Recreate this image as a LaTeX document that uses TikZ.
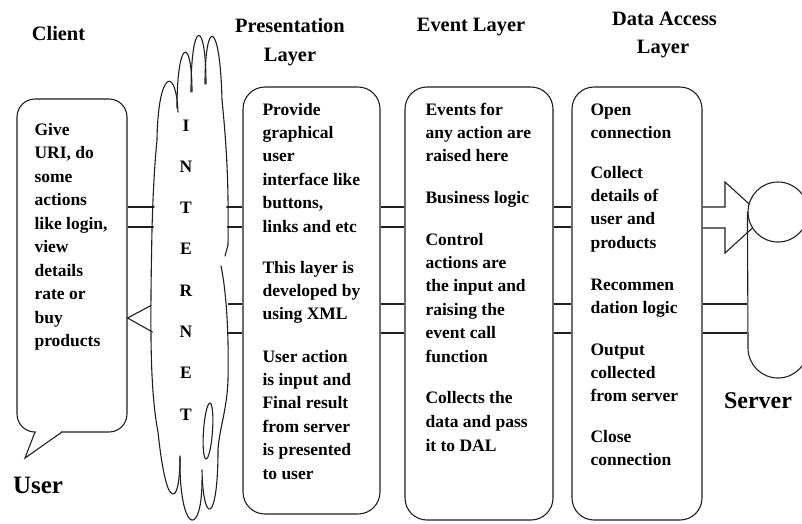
\documentclass[tikz,border=0pt]{standalone}
\usepackage{fontspec}
\setmainfont{Liberation Serif}
\newcommand\bodylines[5]{\foreach \ln [count=\i from 0] in {#5} {\node[body] (#1-\i) at (#2,{#3+\i*#4}) {\ln};}}
\begin{document}
\begin{tikzpicture}[x=1pt,y=-1pt, line width=1.1pt, draw={black!88},
  lbl/.style={font=\fontsize{20.4}{24}\selectfont\bfseries, inner sep=0pt, anchor=base},
  body/.style={font=\fontsize{17.5}{21}\selectfont\bfseries, inner sep=0pt, anchor=base west},
  box/.style={draw, rounded corners=22pt, fill=white, inner sep=0pt},
  stroke/.style={line width=1.1pt, line cap=round}]
\useasboundingbox (0,0) rectangle (802,523);

% level coordinates
\coordinate (y1) at (0,207);
\coordinate (y2) at (0,227);
\coordinate (y3) at (0,304);
\coordinate (y4) at (0,333);
\coordinate (tipY) at (0,318);
\coordinate (cloudW) at (162,0);
\coordinate (cloudE) at (220,0);

% headers
\node[lbl] (hclient) at (58.5,40) {Client};
\node[lbl] (hpres1) at (290,32) {Presentation};
\node[lbl] (hpres2) at (290,61) {Layer};
\node[lbl] (hevent) at (471,31) {Event Layer};
\node[lbl] (hdal1) at (664.5,25) {Data Access};
\node[lbl] (hdal2) at (663,53) {Layer};
\node[lbl, font=\fontsize{24}{28}\selectfont\bfseries] (hserver) at (758,408) {Server};
\node[lbl, font=\fontsize{25}{28}\selectfont\bfseries] (huser) at (38,493) {User};

% client callout
\node[draw, rounded corners=18pt, minimum width=110pt, minimum height=333pt, inner sep=0pt] (client) at (72,265.5) {};
\coordinate (tailA) at (35,432);
\coordinate (tailTip) at (25,458);
\coordinate (tailB) at (62,432);
\fill[white] (36,429) rectangle (61,436);
\draw[line join=miter] (tailA) -- (tailTip) -- (tailB);
\bodylines{cl}{34}{135}{23.5}{Give,{URI, do},some,actions,{like login,},view,details,{rate or},buy,products}

% boxes
\node[box, minimum width=137pt, minimum height=427pt] (pres) at (311.5,300.5) {};
\node[box, minimum width=148pt, minimum height=433pt] (event) at (479,303.5) {};
\node[box, minimum width=130pt, minimum height=433pt] (dal) at (637,303.5) {};

% connectors client <-> cloud
\draw (client.east |- y1) -- (cloudW |- y1);
\draw (client.east |- y2) -- (cloudW |- y2);
\draw[line join=miter] (165,298) -- (client.east |- tipY) -- (165,339);
% cloud <-> presentation
\draw (cloudE |- y1) -- (pres.west |- y1);
\draw (cloudE |- y2) -- (pres.west |- y2);
\draw (cloudE |- y3) -- (pres.west |- y3);
\draw (cloudE |- y4) -- (pres.west |- y4);
% presentation <-> event
\draw (pres.east |- y1) -- (event.west |- y1);
\draw (pres.east |- y2) -- (event.west |- y2);
\draw (pres.east |- y3) -- (event.west |- y3);
\draw (pres.east |- y4) -- (event.west |- y4);
% event <-> dal
\draw (event.east |- y1) -- (dal.west |- y1);
\draw (event.east |- y2) -- (dal.west |- y2);
\draw (event.east |- y3) -- (dal.west |- y3);
\draw (event.east |- y4) -- (dal.west |- y4);

% dal -> server block arrow
\draw[line join=miter] (dal.east |- y1) -- (725,207) -- (725,182) -- (764,217.5) -- (725,253) -- (725,228) -- (dal.east |- 0,228);
% server cylinder
\node[draw, circle, fill=white, minimum size=60pt, inner sep=0pt] (srvtop) at (778,212) {};
\draw (srvtop.west) -- (748,348) .. controls (748,364.6) and (761.4,378) .. (778,378) .. controls (794.6,378) and (808,364.6) .. (808,348);
\draw (dal.east |- y3) -- (srvtop.west |- y3);
\draw (dal.east |- y4) -- (srvtop.west |- y4);

% cloud
\fill[white] (157,140) -- (167,80) -- (185,52) -- (199,36) -- (214,36) -- (222,100) -- (228,250) -- (228,380) -- (220,480) -- (210,512) -- (190,518) -- (173,490) -- (158,432) -- (151,300) -- cycle;
\draw[stroke] (178,112) .. controls (176,65) and (158,70) .. (157,140)
  .. controls (155,160) and (153,190) .. (152,230)
  .. controls (150,330) and (150,390) .. (158,432)
  .. controls (162,470) and (168,500) .. (175,493)
  .. controls (179,488) and (180,470) .. (180,456);
\draw[stroke] (177,108) .. controls (177,38) and (192,35) .. (192,92);
\draw[stroke] (191,92) .. controls (191,18) and (206,18) .. (206,84);
\draw[stroke] (205,84) .. controls (205,18) and (220,18) .. (222,100)
  .. controls (226,140) and (229,180) .. (228,245) -- (225,256);
\draw[stroke] (221,266) .. controls (226,290) and (229,330) .. (228,380)
  .. controls (227,410) and (219,430) .. (218,450)
  .. controls (218,525) and (203,525) .. (202,470);
\draw[stroke] (202,480) .. controls (202,535) and (182,535) .. (180,470) -- (180,458);
\draw[stroke, rotate around={-4:(208,431)}] (208,431) ellipse (4.5 and 28);
\foreach \c [count=\i from 0] in {I,N,T,E,R,N,E,T}
  \node[body, anchor=base] (inet-\i) at (186,{131+\i*41.3}) {\c};

% box texts
\bodylines{pa}{262}{115}{23.4}{Provide,graphical,user,interface like,{buttons,},links and etc}
\bodylines{pb}{262}{273}{23.4}{This layer is,developed by,using XML}
\bodylines{pc}{262}{362}{23.4}{User action,is input and,Final result,from server,is presented,to user}
\bodylines{ea}{425}{115}{23.4}{Events for,any action are,raised here}
\bodylines{eb}{425}{203}{23.4}{Business logic}
\bodylines{ec}{425}{245}{23.4}{Control,actions are,the input and,raising the,event call,function}
\bodylines{ed}{425}{403}{24}{Collects the,data and pass,it to DAL}
\bodylines{da}{590}{115}{23.4}{Open,connection}
\bodylines{db}{590}{178}{23.4}{Collect,details of,user and,products}
\bodylines{dc}{590}{290}{23.4}{Recommen,dation logic}
\bodylines{dd}{590}{355}{23.4}{Output,collected,from server}
\bodylines{de}{590}{442}{23.4}{Close,connection}
\end{tikzpicture}
\end{document}
